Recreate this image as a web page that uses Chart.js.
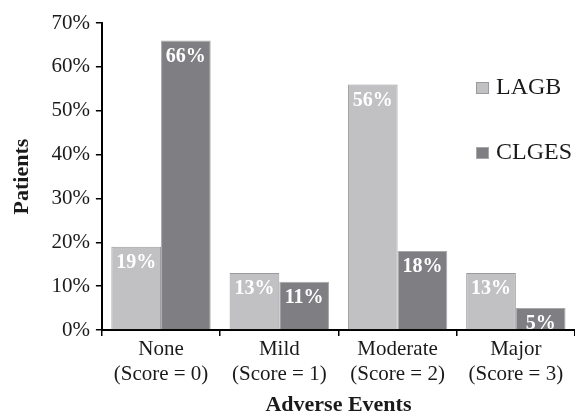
<!DOCTYPE html>
<html>
<head>
<meta charset="utf-8">
<script src="https://cdn.jsdelivr.net/npm/chart.js@4/dist/chart.umd.min.js"></script>
<style>
  html, body { margin: 0; padding: 0; background: #fff; }
  #wrap { width: 575px; height: 419px; }
</style>
</head>
<body>
<div id="wrap"><canvas id="c" width="575" height="419"></canvas></div>
<script>
// Adverse event severity by procedure
const categories = [
  ['None', '(Score = 0)'],
  ['Mild', '(Score = 1)'],
  ['Moderate', '(Score = 2)'],
  ['Major', '(Score = 3)']
];
const lagbValues = [19, 13, 56, 13];
const clgesValues = [66, 11, 18, 5];
const yTicks = [0, 10, 20, 30, 40, 50, 60, 70];

const SERIF = '"Liberation Serif", "Times New Roman", serif';

// White percentage labels inside the top of each bar
const barLabels = {
  id: 'barLabels',
  afterDatasetsDraw(chart) {
    const ctx = chart.ctx;
    ctx.save();
    ctx.font = 'bold 20px ' + SERIF;
    ctx.fillStyle = '#ffffff';
    ctx.textAlign = 'center';
    ctx.textBaseline = 'middle';
    chart.data.datasets.forEach((ds, i) => {
      const meta = chart.getDatasetMeta(i);
      meta.data.forEach((bar, j) => {
        ctx.fillText(ds.data[j] + '%', bar.x, bar.y + 16);
      });
    });
    ctx.restore();
  }
};

// Vertical legend in the upper right of the plot
const sideLegend = {
  id: 'sideLegend',
  afterDraw(chart) {
    const ctx = chart.ctx;
    const area = chart.chartArea;
    ctx.save();
    ctx.font = '24px ' + SERIF;
    ctx.textBaseline = 'middle';
    ctx.textAlign = 'left';
    chart.data.datasets.forEach((ds, i) => {
      const x = area.right - 99;
      const y = area.top + 65 + i * 65;
      ctx.fillStyle = ds.backgroundColor;
      ctx.fillRect(x, y - 6, 13, 12);
      ctx.strokeStyle = ds.borderColor;
      ctx.lineWidth = 1;
      ctx.strokeRect(x + 0.5, y - 5.5, 12, 11);
      ctx.fillStyle = '#1a1a1a';
      ctx.fillText(ds.label, x + 20, y);
    });
    ctx.restore();
  }
};

new Chart(document.getElementById('c'), {
  type: 'bar',
  data: {
    labels: categories,
    datasets: [
      {
        label: 'LAGB',
        data: lagbValues,
        backgroundColor: '#c1c1c3',
        borderColor: '#9a9a9c',
        borderWidth: 1,
        barPercentage: 1.0,
        categoryPercentage: 0.84
      },
      {
        label: 'CLGES',
        data: clgesValues,
        backgroundColor: '#7f7f83',
        borderColor: '#a8a8aa',
        borderWidth: 1,
        barPercentage: 1.0,
        categoryPercentage: 0.84
      }
    ]
  },
  options: {
    responsive: false,
    animation: false,
    devicePixelRatio: 1,
    layout: { padding: { top: 23, right: 0, bottom: 0, left: 9 } },
    plugins: {
      legend: { display: false },
      tooltip: { enabled: false }
    },
    scales: {
      x: {
        grid: {
          display: true,
          offset: true,
          drawOnChartArea: false,
          drawTicks: true,
          tickLength: 6,
          color: '#000',
          lineWidth: 1.5
        },
        border: { display: true, color: '#000', width: 2 },
        ticks: {
          color: '#1a1a1a',
          font: { family: SERIF, size: 21, lineHeight: 1.18 },
          padding: 1,
          maxRotation: 0
        },
        title: {
          display: true,
          text: 'Adverse Events',
          color: '#1a1a1a',
          font: { family: SERIF, size: 22, weight: 'bold' },
          padding: { top: 5, bottom: 0 }
        }
      },
      y: {
        min: 0,
        max: 70,
        afterBuildTicks(axis) {
          axis.ticks = yTicks.map(v => ({ value: v }));
        },
        grid: {
          display: true,
          drawOnChartArea: false,
          drawTicks: true,
          tickLength: 6,
          color: '#000',
          lineWidth: 1.5
        },
        border: { display: true, color: '#000', width: 2 },
        ticks: {
          color: '#1a1a1a',
          font: { family: SERIF, size: 21 },
          padding: 6,
          callback: v => v + '%'
        },
        title: {
          display: true,
          text: 'Patients',
          color: '#1a1a1a',
          font: { family: SERIF, size: 22, weight: 'bold' },
          padding: { top: 0, bottom: 10 }
        }
      }
    }
  },
  plugins: [barLabels, sideLegend]
});
</script>
</body>
</html>
